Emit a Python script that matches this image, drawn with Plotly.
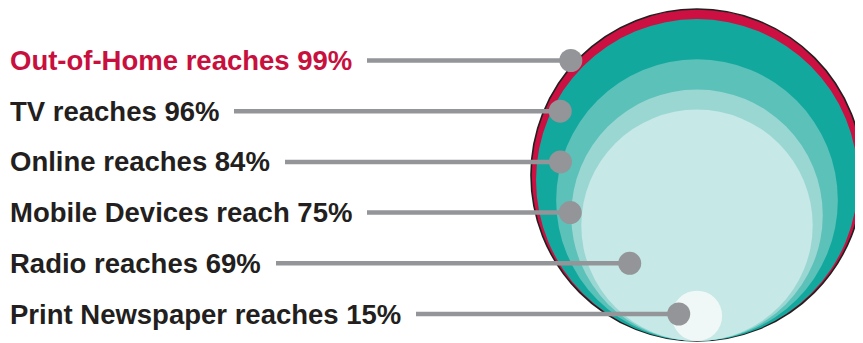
import math
import plotly.graph_objects as go

# ---- data ----
media = ["Out-of-Home", "TV", "Online", "Mobile Devices", "Radio", "Print Newspaper"]
verbs = ["reaches", "reaches", "reaches", "reach", "reaches", "reaches"]
reach = [99, 96, 84, 75, 69, 15]

# ---- style / layout ----
W, H = 863, 343
OFF = 8  # default page body margin
circle_colors = ["#cc1142", "#13a89e", "#5cc1b9", "#9ad7d3", "#c6e8e6", "#eff8f7"]
label_colors = ["#c8103e", "#231f20", "#231f20", "#231f20", "#231f20", "#231f20"]
gray = "#939598"
cx, bottom, px_per_pct = 697, 341, 166 / 99
row_top, row_step = 60.5, 50.7
dot_inset = [-6, 8.7, -1, -1, 42, 6.8]
font_size = 27.5
pad = 15

fig = go.Figure()

# nested circles, all tangent at the bottom, radius proportional to reach
for i, v in enumerate(reach):
    r = v * px_per_pct
    fig.add_shape(
        type="circle", xref="x", yref="y", layer="below",
        x0=cx - r, x1=cx + r, y0=bottom - 2 * r, y1=bottom,
        fillcolor=circle_colors[i],
        line=dict(color="#231f20" if i == 0 else circle_colors[i], width=1.6 if i == 0 else 0),
    )

# connector lines + dots + labels
for i, v in enumerate(reach):
    r = v * px_per_pct
    cy = bottom - r
    y = row_top + i * row_step
    dx = math.sqrt(max(r * r - (y - cy) ** 2, 0))
    xd = cx - dx + dot_inset[i]
    fig.add_trace(go.Scatter(x=[OFF, xd], y=[y, y], mode="lines",
                             line=dict(color=gray, width=4.5), hoverinfo="skip", showlegend=False))
    fig.add_trace(go.Scatter(x=[xd], y=[y], mode="markers",
                             marker=dict(color=gray, size=23, line=dict(width=0)),
                             hoverinfo="skip", showlegend=False))
    fig.add_annotation(
        x=(10 - pad - OFF) / (W - OFF), y=y, xref="paper", yref="y",
        xanchor="left", yanchor="middle",
        text=f"<b>{media[i]} {verbs[i]} {v}%</b>", showarrow=False,
        font=dict(family="Liberation Sans, Arial, sans-serif", size=font_size, color=label_colors[i]),
        bgcolor="white", borderpad=pad, borderwidth=0,
    )

fig.update_layout(
    width=W - OFF, height=H - OFF, margin=dict(l=0, r=0, t=0, b=0),
    paper_bgcolor="white", plot_bgcolor="white",
    xaxis=dict(range=[OFF, W], visible=False, fixedrange=True),
    yaxis=dict(range=[H, OFF], visible=False, fixedrange=True),
)
fig.write_html("out.html")
